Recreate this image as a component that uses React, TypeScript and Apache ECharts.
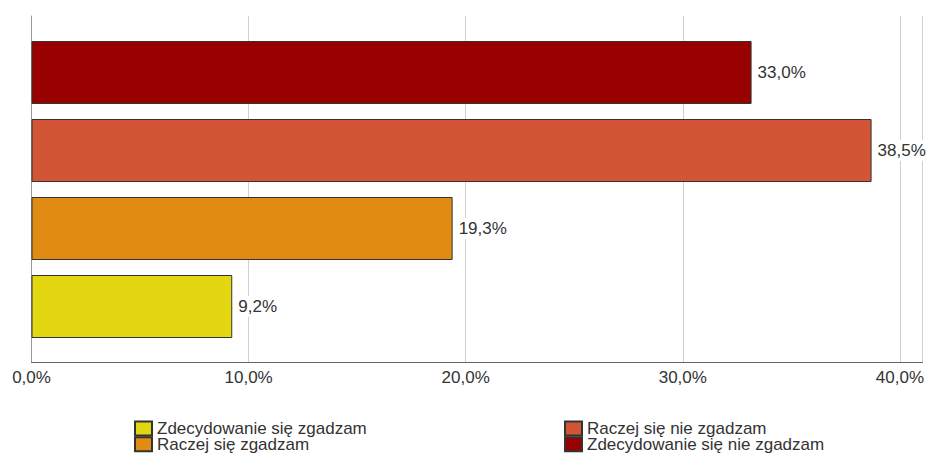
import React, { useEffect, useRef } from "react";
import * as echarts from "echarts";

const categories = [
  "Zdecydowanie się nie zgadzam",
  "Raczej się nie zgadzam",
  "Raczej się zgadzam",
  "Zdecydowanie się zgadzam",
];
const values = [33.0, 38.5, 19.3, 9.2];
const colors = ["#990000", "#D25536", "#E08C12", "#E3D712"];
const legendLeft = ["Zdecydowanie się zgadzam", "Raczej się zgadzam"];
const legendRight = ["Raczej się nie zgadzam", "Zdecydowanie się nie zgadzam"];
const xMin = 0;
const xMax = 41.04;
const xInterval = 10;

const fmt = (v: number) => v.toFixed(1).replace(".", ",") + "%";
const FONT = "'Liberation Sans', Arial, sans-serif";

export default function App() {
  const ref = useRef<HTMLDivElement>(null);
  useEffect(() => {
    if (!ref.current) return;
    const chart = echarts.init(ref.current, null, { renderer: "svg" });
    const series = categories.map((name, i) => ({
      name,
      type: "bar",
      stack: "all",
      xAxisIndex: 0,
      yAxisIndex: 0,
      barWidth: 63,
      data: categories.map((_, j) => (j === i ? values[i] : "-")),
      itemStyle: { color: colors[i], borderColor: "#333", borderWidth: 1 },
      label: {
        show: true,
        position: "right",
        distance: 6,
        formatter: (p: any) => fmt(p.value),
        fontFamily: FONT,
        fontSize: 17,
        color: "#333",
        backgroundColor: "#fff",
        padding: [2, 0, 2, 0],
      },
    }));
    const legendCommon = {
      type: "plain",
      orient: "vertical",
      top: 420,
      height: 60,
      width: 320,
      padding: 0,
      itemWidth: 17,
      itemHeight: 14,
      itemGap: -1.3,
      icon: "rect",
      textStyle: { fontSize: 17, color: "#333", fontFamily: FONT },
      selectedMode: false,
    };
    chart.setOption({
      animation: false,
      backgroundColor: "#fff",
      textStyle: { fontFamily: FONT },
      grid: [
        { left: 31.5, right: 0, top: 33.5, height: 312 },
        { left: 31.5, right: 0, top: 16, height: 346 },
      ],
      xAxis: [
        { gridIndex: 0, type: "value", min: xMin, max: xMax, interval: xInterval, show: false },
        {
          gridIndex: 1,
          type: "value",
          min: xMin,
          max: xMax,
          interval: xInterval,
          axisLine: { show: true, lineStyle: { color: "#666", width: 1 } },
          axisTick: { show: false },
          splitLine: { show: true, lineStyle: { color: "#d0d0d0", width: 1 } },
          axisLabel: {
            margin: 7,
            fontSize: 17,
            color: "#333",
            fontFamily: FONT,
            showMaxLabel: false,
            formatter: (v: number) => (v % xInterval === 0 ? fmt(v) : ""),
          },
        },
      ],
      yAxis: [
        { gridIndex: 0, type: "category", data: categories, inverse: true, show: false },
        {
          gridIndex: 1,
          type: "value",
          min: 0,
          max: 1,
          axisLine: { show: true, lineStyle: { color: "#999", width: 1 } },
          axisTick: { show: false },
          axisLabel: { show: false },
          splitLine: { show: false },
        },
      ],
      legend: [
        { ...legendCommon, id: "legL", data: legendLeft, left: 134 },
        { ...legendCommon, id: "legR", data: legendRight, left: 564 },
      ],
      series,
    });
    return () => chart.dispose();
  }, []);
  return (
    <div
      ref={ref}
      style={{ position: "fixed", left: 0, top: 0, width: 927, height: 455 }}
    />
  );
}
